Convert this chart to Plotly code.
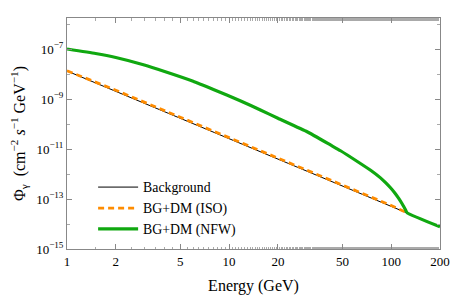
import plotly.graph_objects as go

# Background (power law)
bg_E = [1, 10, 100, 200]
bg_flux = [1.32e-8, 2.59e-11, 5.08e-14, 7.76e-15]

# BG+DM (ISO)
iso_E = [1, 2, 5, 10, 20, 50, 100, 125.5]
iso_flux = [1.35e-8, 2.24e-9, 1.86e-10, 2.88e-11, 4.37e-12, 3.72e-13, 5.50e-14, 2.80e-14]

# BG+DM (NFW)
nfw_E = [1, 1.5, 2, 3, 4, 6, 8, 11.7, 15.6, 20, 30.3, 42.2, 48.7, 62.5, 75, 85.9, 92, 99, 105, 111,
         117, 122.5, 125.5, 200]
nfw_flux = [1.0e-7, 6.61e-8, 4.57e-8, 2.29e-8, 1.26e-8, 5.13e-9, 2.40e-9, 8.51e-10, 3.63e-10, 1.70e-10,
            4.90e-11, 1.45e-11, 8.51e-12, 3.02e-12, 1.38e-12, 7.0e-13, 4.63e-13, 2.82e-13, 1.78e-13,
            1.08e-13, 6.3e-14, 3.7e-14, 2.8e-14, 7.76e-15]

xticks = [1, 2, 5, 10, 20, 50, 100, 200]
yticks = [1e-15, 1e-13, 1e-11, 1e-9, 1e-7]
ytext = ["10<sup>\u221215</sup>", "10<sup>\u221213</sup>", "10<sup>\u221211</sup>",
         "10<sup>\u22129</sup>", "10<sup>\u22127</sup>"]

fig = go.Figure()
fig.add_trace(go.Scatter(x=bg_E, y=bg_flux, mode="lines", name="Background",
                         line=dict(color="black", width=1)))
fig.add_trace(go.Scatter(x=iso_E, y=iso_flux, mode="lines", name="BG+DM (ISO)",
                         line=dict(color="#ff8c00", width=2.8, dash="6px,4px")))
fig.add_trace(go.Scatter(x=nfw_E, y=nfw_flux, mode="lines", name="BG+DM (NFW)",
                         line=dict(color="#10a810", width=3.2, shape="spline", smoothing=0.4)))

font = "Liberation Serif, Times New Roman, serif"
fig.update_layout(
    width=450, height=296,
    margin=dict(l=67, r=10, t=18, b=47, autoexpand=False),
    paper_bgcolor="white", plot_bgcolor="white",
    font=dict(family=font, size=13, color="black"),
    legend=dict(x=0.07, y=0.335, xanchor="left", yanchor="top",
                bgcolor="rgba(0,0,0,0)", font=dict(size=13.8, family=font),
                tracegroupgap=0, itemwidth=40),
    showlegend=True,
)
fig.update_xaxes(type="log", range=[0, 2.30103], tickvals=xticks, ticktext=[str(v) for v in xticks],
                 automargin=False,
                 ticks="inside", ticklen=5, tickcolor="#888", showline=True, linecolor="#888",
                 mirror="ticks", showgrid=False, zeroline=False,
                 minor=dict(ticks="inside", ticklen=2.5, tickcolor="#aaa", showgrid=False),
                 title=dict(text="Energy (GeV)", font=dict(size=16, family=font), standoff=12),
                 tickfont=dict(size=13, family=font))
fig.update_yaxes(type="log", range=[-15, -5.76], tickvals=yticks, ticktext=ytext,
                 automargin=False,
                 ticks="inside", ticklen=5, tickcolor="#888", showline=True, linecolor="#888",
                 mirror="ticks", showgrid=False, zeroline=False,
                 minor=dict(ticks="inside", ticklen=3, tickcolor="#aaa", showgrid=False,
                            tickvals=[1e-14, 1e-12, 1e-10, 1e-8, 1e-6]),
                 title=dict(text="\u03a6<sub>\u03b3</sub>  (cm<sup>\u22122</sup> <i>s</i><sup>\u22121</sup> GeV<sup>\u22121</sup>)",
                            font=dict(size=16, family=font), standoff=6),
                 tickfont=dict(size=13, family=font))
fig.write_html("out.html", config={"displayModeBar": False},
               post_script="document.body.style.margin='0';document.body.style.overflow='hidden';")
